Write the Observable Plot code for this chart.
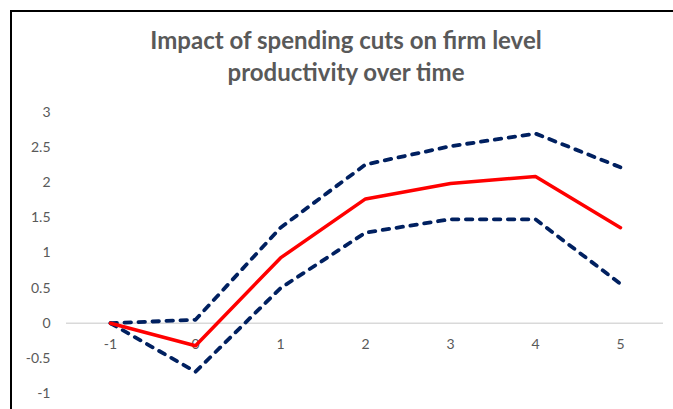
<!DOCTYPE html>
<html>
<head>
<meta charset="utf-8">
<script src="https://cdn.jsdelivr.net/npm/d3@7"></script>
<script src="https://cdn.jsdelivr.net/npm/@observablehq/plot@0.6"></script>
<style>
  html, body { margin: 0; padding: 0; background: #fff; }
  body { width: 673px; height: 409px; position: relative; overflow: hidden; font-family: Lato, "Open Sans", sans-serif; }
  #frame { position: absolute; left: 10px; top: 10px; width: 700px; height: 420px;
           border-left: 2px solid #000; border-top: 2px solid #000; }
  #title { position: absolute; left: 0; width: 692px; top: 24px; text-align: center;
           font-weight: bold; font-size: 24px; line-height: 32px; color: #595959; }
  #chart { position: absolute; left: 0; top: 0; }
</style>
</head>
<body>
<div id="chart"></div>
<div id="frame"></div>
<div id="title">Impact of spending cuts on firm level<br>productivity over time</div>
<script>
// Years relative to the spending cut
const years = ["-1", "0", "1", "2", "3", "4", "5"];
// Point estimate and confidence band
const estimate = [0, -0.32, 0.93, 1.77, 1.99, 2.09, 1.36];
const upper = [0, 0.05, 1.36, 2.26, 2.52, 2.70, 2.22];
const lower = [0, -0.69, 0.50, 1.29, 1.48, 1.48, 0.56];
const yTicks = [-1, -0.5, 0, 0.5, 1, 1.5, 2, 2.5, 3];

const rows = (vals) => years.map((t, i) => ({t, v: vals[i]}));

const chart = Plot.plot({
  width: 673,
  height: 409,
  marginTop: 112,
  marginBottom: 16,
  marginLeft: 66,
  marginRight: 10,
  style: {fontFamily: "Lato, 'Open Sans', sans-serif", fontSize: "14px", color: "#595959", background: "transparent"},
  x: {type: "point", domain: years, padding: 0.5, axis: null},
  y: {domain: [-1, 3], ticks: yTicks, tickFormat: d => String(d), tickSize: 0, tickPadding: 16, label: null},
  marks: [
    Plot.ruleY([0], {stroke: "#d9d9d9", strokeWidth: 1.5}),
    Plot.text(years, {x: d => d, y: 0, dy: 21, text: d => d, fill: "#595959", fontSize: 14}),
    Plot.line(rows(upper), {x: "t", y: "v", stroke: "#002060", strokeWidth: 3.8, strokeDasharray: "6.5,7.5", strokeLinecap: "round", strokeLinejoin: "round"}),
    Plot.line(rows(lower), {x: "t", y: "v", stroke: "#002060", strokeWidth: 3.8, strokeDasharray: "6.5,7.5", strokeLinecap: "round", strokeLinejoin: "round"}),
    Plot.line(rows(estimate), {x: "t", y: "v", stroke: "#ff0000", strokeWidth: 3.5, strokeLinejoin: "round"})
  ]
});
document.getElementById("chart").appendChild(chart);
</script>
</body>
</html>
